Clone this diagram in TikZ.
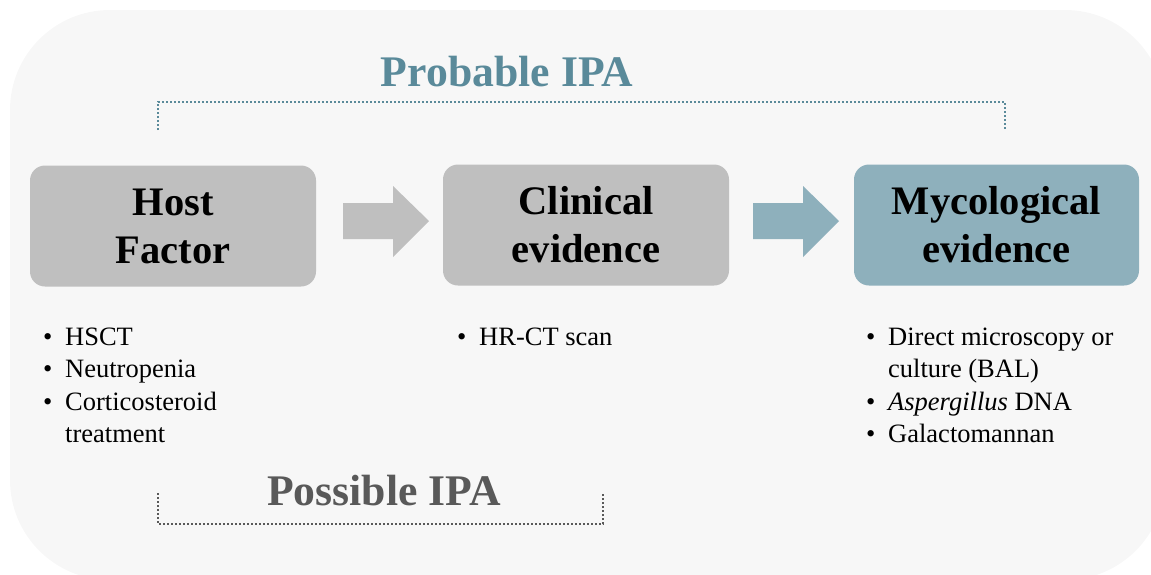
\documentclass[tikz,border=0pt]{standalone}
\usepackage{fontspec}
\setmainfont{Liberation Serif}
\definecolor{bgcol}{HTML}{F7F7F7}
\definecolor{boxgray}{HTML}{BFBFBF}
\definecolor{boxteal}{HTML}{8EB0BC}
\definecolor{titleteal}{HTML}{5A8A9A}
\definecolor{titlegray}{HTML}{595959}
\newcommand{\blt}{\makebox[22pt][l]{\textbullet}}
\begin{document}
\begin{tikzpicture}[x=1pt,y=-1pt,
  stage/.style={rounded corners=15pt, minimum width=286pt, minimum height=121pt, align=center,
    font=\fontsize{40.5}{48}\selectfont\bfseries, text=black, inner sep=0pt},
  bullets/.style={anchor=base west, inner sep=0pt, font=\fontsize{26.5}{32.5}\selectfont},
  bracket/.style={line width=2.2pt, dash pattern=on 2pt off 2pt},
  title/.style={font=\fontsize{43.7}{50}\selectfont\bfseries, inner sep=0pt}]
\useasboundingbox (0,0) rectangle (1151,574);
\fill[bgcol, rounded corners=100pt] (10,10) rectangle (1165,580);
% stage boxes
\node[stage, fill=boxgray] (host) at (173,226) {Host\\Factor};
\node[stage, fill=boxgray] (clin) at (586,225) {Clinical\\evidence};
\node[stage, fill=boxteal, minimum width=285pt] (myco) at (996.5,225) {Mycological\\evidence};
% block arrows
\fill[boxgray] (343,203) -- (393,203) -- (393,186) -- (429,221) -- (393,257) -- (393,239) -- (343,239) -- cycle;
\fill[boxteal] (753,203) -- (803,203) -- (803,186) -- (839,221) -- (803,257) -- (803,239) -- (753,239) -- cycle;
% titles
\node[title, text=titleteal] (prob) at (507,72) {Probable IPA};
\node[title, text=titlegray] (poss) at (384,491) {Possible IPA};
% brackets
\coordinate (pa) at (158,130);
\coordinate (pb) at (1005,130);
\draw[bracket, draw=titleteal] (pa) -- (158,102) -- (1005,102) -- (pb);
\coordinate (qa) at (158,493);
\coordinate (qb) at (603,493);
\draw[bracket, draw=titlegray] (qa) -- (158,524) -- (603,524) -- (qb);
% bullet lists
\node[bullets] (l1) at (43,345) {\parbox[t]{260pt}{\blt HSCT\\ \blt Neutropenia\\ \blt Corticosteroid\\ \hspace*{22pt}treatment}};
\node[bullets] (l2) at (457,345) {\parbox[t]{260pt}{\blt HR-CT scan}};
\node[bullets] (l3) at (866,345) {\parbox[t]{280pt}{\blt Direct microscopy or\\ \hspace*{22pt}culture (BAL)\\ \blt \textit{Aspergillus} DNA\\ \blt Galactomannan}};
\end{tikzpicture}
\end{document}
